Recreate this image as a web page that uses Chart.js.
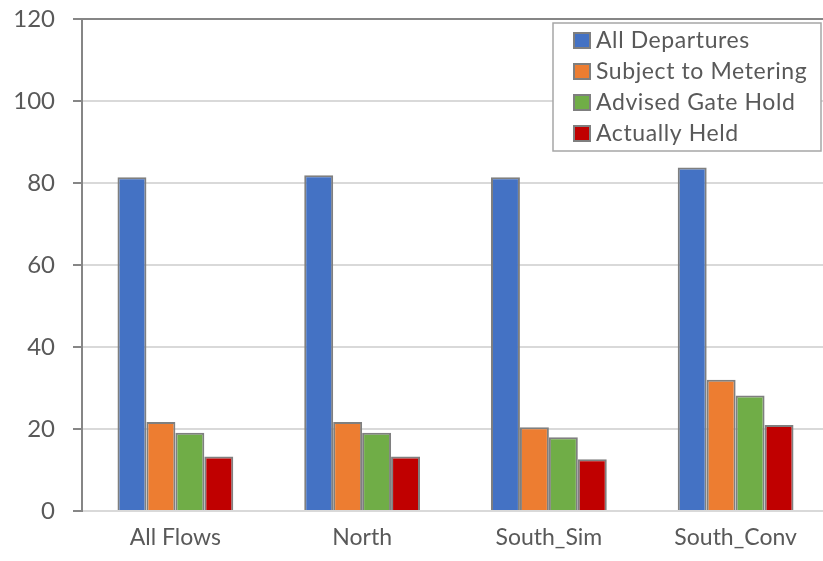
<!DOCTYPE html>
<html>
<head>
<meta charset="utf-8">
<script src="https://cdn.jsdelivr.net/npm/chart.js@4/dist/chart.umd.min.js"></script>
<style>
  html, body { margin: 0; padding: 0; background: #fff; overflow: hidden; }
  #wrap { width: 823px; height: 561px; position: relative; overflow: hidden; }
  canvas { display: block; }
</style>
</head>
<body>
<div id="wrap"><canvas id="flowChart" width="840" height="561"></canvas></div>
<script>
// Datos
const categorias = ['All Flows', 'North', 'South_Sim', 'South_Conv'];
const allDepartures = [81.4, 81.9, 81.4, 83.8];
const subjectToMetering = [21.7, 21.7, 20.4, 32.0];
const advisedGateHold = [19.1, 19.1, 18.0, 28.2];
const actuallyHeld = [13.3, 13.3, 12.6, 21.0];
const ticksY = [0, 20, 40, 60, 80, 100, 120];

const FONT = 'Lato, "Open Sans", sans-serif';
const TEXTO = '#595959';

// Leyenda con recuadro dentro del área del gráfico
const leyendaCaja = {
    id: 'leyendaCaja',
    afterDraw(chart) {
        const c = chart.ctx;
        const x0 = 553, y0 = 23, w = 268, h = 128;
        c.save();
        c.fillStyle = '#fff';
        c.fillRect(x0, y0, w, h);
        c.strokeStyle = '#a6a6a6';
        c.lineWidth = 1.5;
        c.strokeRect(x0, y0, w, h);
        c.font = '23px ' + FONT;
        c.textBaseline = 'middle';
        if ('letterSpacing' in c) c.letterSpacing = '0.6px';
        chart.data.datasets.forEach((ds, i) => {
            const cy = y0 + 17 + i * 31;
            c.fillStyle = ds.backgroundColor;
            c.fillRect(x0 + 21, cy - 7, 16, 15);
            c.strokeStyle = '#7f7f7f';
            c.lineWidth = 2;
            c.strokeRect(x0 + 21, cy - 7, 16, 15);
            c.fillStyle = TEXTO;
            c.fillText(ds.label, x0 + 43, cy + 1);
        });
        c.restore();
    }
};

const ctx = document.getElementById('flowChart').getContext('2d');
new Chart(ctx, {
    type: 'bar',
    data: {
        labels: categorias,
        datasets: [
            { label: 'All Departures', data: allDepartures, backgroundColor: '#4472C4' },
            { label: 'Subject to Metering', data: subjectToMetering, backgroundColor: '#ED7D31' },
            { label: 'Advised Gate Hold', data: advisedGateHold, backgroundColor: '#70AD47' },
            { label: 'Actually Held', data: actuallyHeld, backgroundColor: '#C00000' }
        ].map(d => Object.assign(d, {
            borderColor: '#7f7f7f',
            borderWidth: 2,
            barPercentage: 1,
            categoryPercentage: 0.62
        }))
    },
    options: {
        responsive: false,
        animation: false,
        devicePixelRatio: 1,
        layout: { padding: { top: 19, right: 11, left: 0, bottom: 0 } },
        plugins: {
            legend: { display: false },
            tooltip: { enabled: false }
        },
        scales: {
            x: {
                grid: { display: false, drawTicks: false },
                border: { color: '#d9d9d9', width: 2 },
                ticks: { color: TEXTO, font: { family: FONT, size: 23 }, padding: 13, maxRotation: 0 },
                afterFit(scale) { scale.height = 50; }
            },
            y: {
                min: 0,
                max: 120,
                afterBuildTicks(scale) { scale.ticks = ticksY.map(v => ({ value: v })); },
                grid: {
                    color: c => (c.tick && c.tick.value === 120) ? '#868686' : '#d9d9d9',
                    lineWidth: 2,
                    tickColor: '#868686',
                    tickLength: 9
                },
                border: { color: '#868686', width: 2 },
                ticks: { color: TEXTO, font: { family: FONT, size: 24 }, padding: 18 },
                afterFit(scale) {
                    scale.width = 82;
                    scale.paddingTop = 0;
                    scale.paddingBottom = 0;
                }
            }
        }
    },
    plugins: [leyendaCaja]
});
</script>
</body>
</html>
